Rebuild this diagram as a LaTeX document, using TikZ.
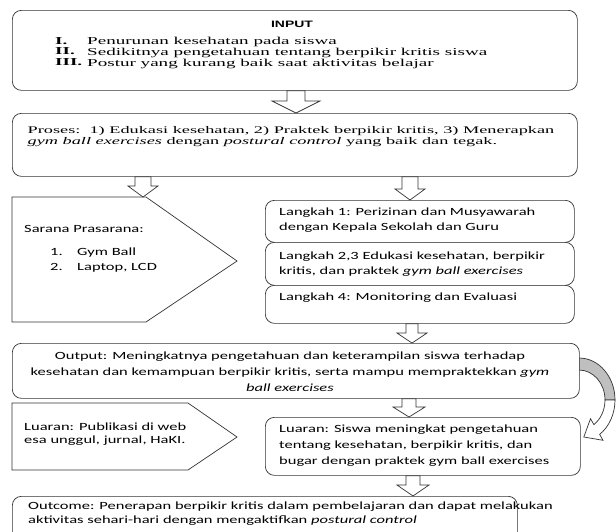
\documentclass[tikz,border=0pt]{standalone}
\usepackage{fontspec}
\setmainfont{Liberation Serif}[FakeStretch=1.8]
\newfontfamily\sansf{Carlito}[FakeStretch=1.5]
\newfontfamily\headf{Liberation Sans}[FakeStretch=1.5]
\usetikzlibrary{calc}
\newcommand{\blockarrow}[5]{%
  \draw[barrow] let \p1=(#1), \p2=(#2) in
    (\x1-#3pt,\y1) -- (\x1+#3pt,\y1) -- (\x1+#3pt,\y2+#5pt) -- (\x1+#4pt,\y2+#5pt)
    -- (\x1,\y2) -- (\x1-#4pt,\y2+#5pt) -- (\x1-#3pt,\y2+#5pt) -- cycle;}
\tikzset{
  box/.style={draw=black!80, line width=0.7pt, fill=white, rounded corners=9pt,
    inner sep=0pt, anchor=north west},
  pent/.style={draw=black!80, line width=0.7pt, fill=white},
  barrow/.style={draw=black!80, line width=0.7pt, fill=white, line join=miter},
  serif/.style={anchor=north west, inner sep=0pt, align=left,
    font=\rmfamily\fontsize{10.6}{10.5}\selectfont},
  stxt/.style={anchor=north west, inner sep=0pt, align=left,
    font=\sansf\fontsize{11}{15}\selectfont},
}
\begin{document}
\begin{tikzpicture}[x=1pt, y=-1pt]
\useasboundingbox (0,0) rectangle (616,531);
\fill[white] (0,0) rectangle (616,531);
\clip (0,0) rectangle (616,531);

% arrow x positions
\coordinate (ax1) at (296,0);
\coordinate (ax2) at (143,0);
\coordinate (ax3) at (410,0);
\coordinate (ax4) at (412,0);
\coordinate (ax5) at (409,0);
\coordinate (ax6) at (413,0);

% curved arrow (behind boxes)
\filldraw[draw=black!80, line width=0.7pt, fill=black!25]
  (579,358) arc[start angle=-90, end angle=0, x radius=36, y radius=42]
  -- (605,400) arc[start angle=0, end angle=-90, x radius=26, y radius=30] -- cycle;
\filldraw[draw=black!80, line width=0.7pt, fill=white, line join=miter]
  (615,400) arc[start angle=0, end angle=55, x radius=36, y radius=42]
  -- (603,440.3) -- (583.8,437) -- (590.5,418.7) -- (593.9,424.6)
  arc[start angle=55, end angle=0, x radius=26, y radius=30] -- cycle;

% INPUT
\node[box, minimum width=565pt, minimum height=80pt] (input) at (12,10) {};
\node[inner sep=0pt, font=\headf\bfseries\fontsize{9.3}{10}\selectfont] (inhead) at (292,24) {INPUT};
\node[serif, font=\rmfamily\bfseries\fontsize{10.6}{10.5}\selectfont] (innum) at (55,36.9) {\strut I.\\II.\\III.};
\node[serif] (inlist) at (87,36.9) {\strut Penurunan kesehatan pada siswa\\Sedikitnya pengetahuan tentang berpikir kritis siswa\\Postur yang kurang baik saat aktivitas belajar};

% PROSES
\node[box, minimum width=565pt, minimum height=63pt] (proses) at (12,113) {};
\node[serif, font=\rmfamily\fontsize{10.15}{11}\selectfont] (prostxt) at (27.5,125.6) {\strut Proses:\ \ 1) Edukasi kesehatan, 2) Praktek berpikir kritis, 3) Menerapkan\\\textit{gym ball exercises} dengan \textit{postural control} yang baik dan tegak.};

% Sarana pentagon
\coordinate (sar-nw) at (12,197);
\coordinate (sar-ne) at (146,197);
\coordinate (sar-tip) at (237,261);
\coordinate (sar-se) at (146,322);
\coordinate (sar-sw) at (12,322);
\draw[pent] (sar-nw) -- (sar-ne) -- (sar-tip) -- (sar-se) -- (sar-sw) -- cycle;
\node[stxt] (sartitle) at (24,222) {\strut Sarana Prasarana:};
\node[stxt, font=\sansf\fontsize{11}{14.5}\selectfont] (sarnum) at (50,245.4) {\strut 1.\\2.};
\node[stxt, font=\sansf\fontsize{11}{14.5}\selectfont] (saritems) at (77,245.4) {\strut Gym Ball\\Laptop, LCD};

% Langkah boxes
\node[box, minimum width=309pt, minimum height=42pt] (lang1) at (265,200) {};
\node[box, minimum width=309pt, minimum height=43pt] (lang2) at (265,242) {};
\node[box, minimum width=309pt, minimum height=38pt] (lang4) at (265,285) {};
\node[stxt] (l1txt) at (279,205) {\strut Langkah 1: Perizinan dan Musyawarah\\dengan Kepala Sekolah dan Guru};
\node[stxt] (l2txt) at (279,249) {\strut Langkah 2,3 Edukasi kesehatan, berpikir\\kritis, dan praktek \textit{gym ball exercises}};
\node[stxt] (l4txt) at (279,290) {\strut Langkah 4: Monitoring dan Evaluasi};

% Output
\node[box, minimum width=567pt, minimum height=55pt] (output) at (12,343) {};
\node[stxt, anchor=north, align=center, font=\sansf\fontsize{11}{16}\selectfont] (outtxt) at (290,348.4)
  {\strut Output: Meningkatnya pengetahuan dan keterampilan siswa terhadap\\kesehatan dan kemampuan berpikir kritis, serta mampu mempraktekkan \textit{gym}\\\textit{ball exercises}};

% Luaran left pentagon
\coordinate (lua-nw) at (12,403);
\coordinate (lua-ne) at (188,403);
\coordinate (lua-tip) at (237,437);
\coordinate (lua-se) at (188,470);
\coordinate (lua-sw) at (12,470);
\draw[pent] (lua-nw) -- (lua-ne) -- (lua-tip) -- (lua-se) -- (lua-sw) -- cycle;
\node[stxt, font=\sansf\fontsize{11}{12.5}\selectfont] (luatxt) at (24,421.8) {\strut Luaran: Publikasi di web\\esa unggul, jurnal, HaKI.};

% Luaran right
\node[box, minimum width=315pt, minimum height=58pt] (luaran) at (265,417) {};
\node[stxt, font=\sansf\fontsize{11}{16}\selectfont] (luartxt) at (279,421.4) {\strut Luaran: Siswa meningkat pengetahuan\\tentang kesehatan, berpikir kritis, dan\\bugar dengan praktek gym ball exercises};

% Outcome
\node[box, minimum width=505pt, minimum height=50pt] (outcome) at (12,496) {};
\node[stxt, font=\sansf\fontsize{11}{14}\selectfont] (outctxt) at (28,499.75) {\strut Outcome: Penerapan berpikir kritis dalam pembelajaran dan dapat melakukan\\aktivitas sehari-hari dengan mengaktifkan \textit{postural control}};

% block arrows
\blockarrow{input.south -| ax1}{proses.north -| ax1}{9}{24}{12}
\blockarrow{proses.south -| ax2}{sar-ne -| ax2}{8}{15}{11}
\blockarrow{proses.south -| ax3}{lang1.north -| ax3}{8}{15}{11}
\blockarrow{lang4.south -| ax4}{output.north -| ax4}{6}{15}{10}
\blockarrow{output.south -| ax5}{luaran.north -| ax5}{7}{16}{10}
\blockarrow{luaran.south -| ax6}{outcome.north -| ax6}{7}{16}{11}
\end{tikzpicture}
\end{document}
